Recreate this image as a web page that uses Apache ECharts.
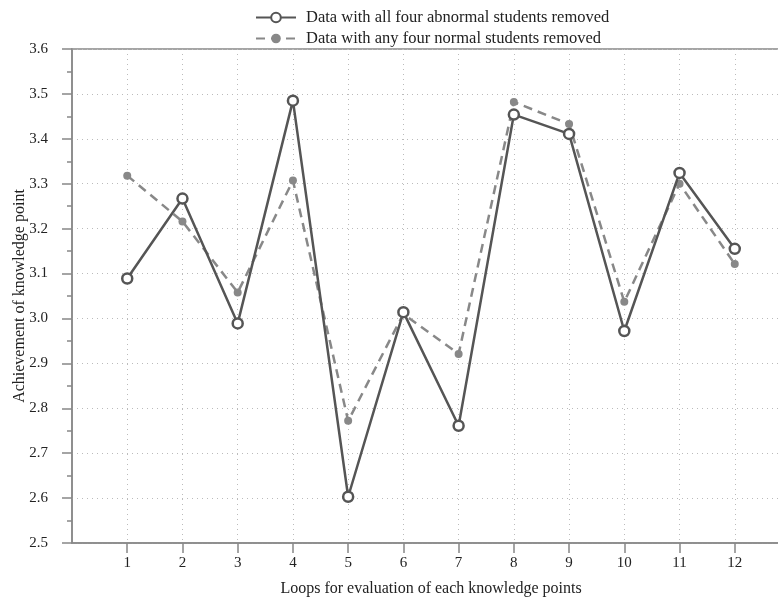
<!DOCTYPE html>
<html>
<head>
<meta charset="utf-8">
<style>
  html, body { margin: 0; padding: 0; background: #fff; }
  #main { width: 778px; height: 599px; }
</style>
<script src="https://cdn.jsdelivr.net/npm/echarts@6/dist/echarts.min.js"></script>
</head>
<body>
<div id="main"></div>
<script>
// loops 1..12
var loops = [1, 2, 3, 4, 5, 6, 7, 8, 9, 10, 11, 12];
// all four abnormal students removed
var abnormalRemoved = [3.089, 3.267, 2.989, 3.485, 2.603, 3.014, 2.761, 3.454, 3.411, 2.972, 3.324, 3.155];
// any four normal students removed
var normalRemoved = [3.318, 3.216, 3.058, 3.307, 2.772, 3.010, 2.921, 3.482, 3.433, 3.037, 3.300, 3.121];
var seriesNames = ["Data with all four abnormal students removed", "Data with any four normal students removed"];

var font = "Liberation Serif";
var myChart = echarts.init(document.getElementById("main"));

function pairs(xs, ys) {
  return xs.map(function (x, i) { return [x, ys[i]]; });
}

var option = {
  backgroundColor: "#fff",
  animation: false,
  textStyle: { fontFamily: font },
  legend: {
    orient: "vertical",
    left: 250,
    top: 4,
    itemWidth: 40,
    itemHeight: 12,
    itemGap: 4,
    textStyle: { fontFamily: font, fontSize: 16.5, color: "#222", padding: [0, 0, 0, 5] },
    data: seriesNames
  },
  grid: {
    left: 72,
    top: 49,
    bottom: 56,
    right: -12,
    outerBoundsMode: "none",
    containLabel: false,
    show: true,
    borderColor: "#888",
    borderWidth: 1.5
  },
  xAxis: {
    type: "value",
    min: 0,
    max: 13,
    interval: 1,
    name: "Loops for evaluation of each knowledge points",
    nameLocation: "middle",
    nameGap: 38,
    nameMoveOverlap: false,
    nameTextStyle: { fontFamily: font, fontSize: 16, color: "#222" },
    axisLine: { lineStyle: { color: "#888", width: 1.5 } },
    axisTick: { show: true, length: 10, customValues: loops, lineStyle: { color: "#888", width: 1.5 } },
    axisLabel: {
      fontFamily: font,
      fontSize: 15,
      color: "#222",
      margin: 13,
      customValues: loops
    },
    splitLine: { show: true, lineStyle: { color: "#bbb", type: [1, 4], width: 1 } }
  },
  yAxis: {
    type: "value",
    min: 2.5,
    max: 3.6,
    interval: 0.1,
    name: "Achievement of knowledge point",
    nameLocation: "middle",
    nameGap: 44,
    nameMoveOverlap: false,
    nameTextStyle: { fontFamily: font, fontSize: 16, color: "#222" },
    axisLine: { show: true, lineStyle: { color: "#888", width: 1.5 } },
    axisTick: { show: true, length: 10, lineStyle: { color: "#888", width: 1.5 } },
    minorTick: { show: true, splitNumber: 2, length: 5, lineStyle: { color: "#888", width: 1.5 } },
    axisLabel: {
      fontFamily: font,
      fontSize: 15,
      color: "#222",
      margin: 24,
      formatter: function (v) { return v.toFixed(1); }
    },
    splitLine: { show: true, lineStyle: { color: "#bbb", type: [1, 4], width: 1 } }
  },
  series: [
    {
      name: seriesNames[0],
      type: "line",
      data: pairs(loops, abnormalRemoved),
      symbol: "circle",
      symbolSize: 10,
      z: 3,
      lineStyle: { color: "#555", width: 2.5 },
      itemStyle: { color: "#fff", borderColor: "#555", borderWidth: 2.5 }
    },
    {
      name: seriesNames[1],
      type: "line",
      data: pairs(loops, normalRemoved),
      symbol: "circle",
      symbolSize: 8,
      z: 2,
      lineStyle: { color: "#888", width: 2.5, type: [9, 6] },
      itemStyle: { color: "#888", borderColor: "#888", borderWidth: 0 }
    }
  ]
};
// draw
myChart.setOption(option);
</script>
</body>
</html>
